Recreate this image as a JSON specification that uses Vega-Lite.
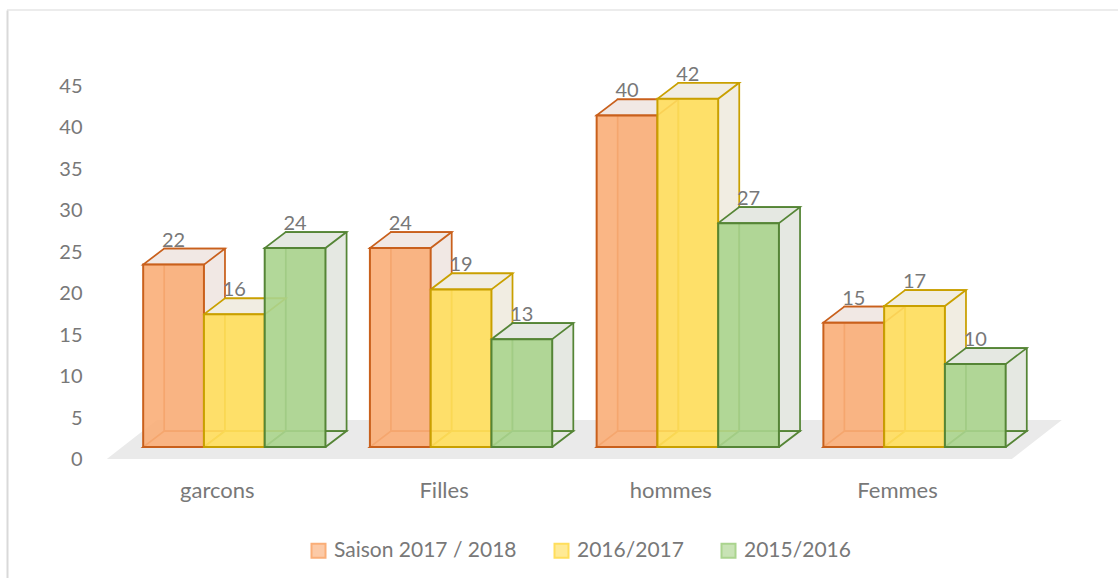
{
  "$schema": "https://vega.github.io/schema/vega-lite/v6.json",
  "width": 1111,
  "height": 568,
  "autosize": "none",
  "padding": {"left": 7, "top": 10, "right": 0, "bottom": 0},
  "background": "white",
  "config": {
    "view": {"stroke": null},
    "font": "Lato",
    "text": {"font": "Lato"}
  },
  "datasets": {
    "effectifs": [
      {"cat": "garcons", "series": "Saison 2017 / 2018", "value": 22},
      {"cat": "garcons", "series": "2016/2017", "value": 16},
      {"cat": "garcons", "series": "2015/2016", "value": 24},
      {"cat": "Filles", "series": "Saison 2017 / 2018", "value": 24},
      {"cat": "Filles", "series": "2016/2017", "value": 19},
      {"cat": "Filles", "series": "2015/2016", "value": 13},
      {"cat": "hommes", "series": "Saison 2017 / 2018", "value": 40},
      {"cat": "hommes", "series": "2016/2017", "value": 42},
      {"cat": "hommes", "series": "2015/2016", "value": 27},
      {"cat": "Femmes", "series": "Saison 2017 / 2018", "value": 15},
      {"cat": "Femmes", "series": "2016/2017", "value": 17},
      {"cat": "Femmes", "series": "2015/2016", "value": 10}
    ],
    "decor": [{"part": "plancher"}]
  },
  "layer": [
    {
      "data": {"name": "decor"},
      "mark": {"type": "point", "shape": "M-77.5,-27L827.5,-27L777.5,12L-127.5,12Z", "size": 4, "filled": true, "color": "#EAEAEA", "opacity": 1},
      "encoding": {"x": {"datum": "garcons", "type": "nominal"}, "y": {"datum": 0, "type": "quantitative"}}
    },
    {
      "data": {"name": "decor"},
      "mark": {"type": "rule", "color": "#D9D9D9", "strokeWidth": 1},
      "encoding": {"y": {"datum": 52.71, "type": "quantitative"}}
    },
    {
      "data": {"name": "effectifs"},
      "encoding": {
        "x": {
          "field": "cat", "type": "nominal",
          "scale": {"domain": ["garcons", "Filles", "hommes", "Femmes"], "paddingInner": 0.196, "paddingOuter": 0.548, "align": 0.548},
          "axis": {"title": null, "orient": "bottom", "domain": false, "ticks": false, "tickSize": 0, "labelPadding": -88, "labelBaseline": "middle", "labelAlign": "center", "labelOffset": -17, "labelFontSize": 22, "labelColor": "#787878", "labelFont": "Lato", "labelAngle": 0}
        },
        "y": {
          "field": "value", "type": "quantitative",
          "scale": {"domain": [-15.8, 52.71], "nice": false, "zero": false},
          "axis": {"title": null, "values": [0, 5, 10, 15, 20, 25, 30, 35, 40, 45], "grid": false, "ticks": false, "tickSize": 0, "domain": true, "domainColor": "#D9D9D9", "domainWidth": 2, "labelPadding": -75, "labelOffset": 12.5, "labelFontSize": 20, "labelColor": "#787878", "labelFont": "Lato", "labelBaseline": "middle", "labelAlign": "right"}
        }
      },
      "layer": [
        {
          "mark": {"type": "bar", "yOffset": -16, "y2Offset": -16, "strokeWidth": 1.75, "opacity": 1},
          "encoding": {
            "xOffset": {"field": "series", "type": "nominal", "scale": {"domain": ["Saison 2017 / 2018", "2016/2017", "2015/2016"], "range": [21, 203.4], "paddingInner": 0, "paddingOuter": 0}},
            "y2": {"datum": 0},
            "fill": {"field": "series", "type": "nominal", "scale": {"domain": ["Saison 2017 / 2018", "2016/2017", "2015/2016", "face"], "range": ["#F1E8E4", "#F1EDE2", "#E5E8E2", "#EEEEEE"]}, "legend": null},
            "stroke": {"field": "series", "type": "nominal", "scale": {"domain": ["Saison 2017 / 2018", "2016/2017", "2015/2016", "arete"], "range": ["#C9601C", "#C9A000", "#558536", "#999999"]}, "legend": null}
          }
        },
        {
          "encoding": {
            "xOffset": {"field": "series", "type": "nominal", "scale": {"domain": ["Saison 2017 / 2018", "2016/2017", "2015/2016"], "paddingInner": 0, "paddingOuter": 0}}
          },
          "layer": [
            {
              "mark": {"type": "point", "shape": "M-30.4,0L30.4,0L51.4,-16L-9.4,-16Z", "size": 4, "filled": true, "opacity": 1, "strokeWidth": 1.75},
              "encoding": {
                "y": {"datum": 0},
                "fill": {"field": "series", "type": "nominal", "legend": null},
                "stroke": {"field": "series", "type": "nominal", "legend": null}
              }
            },
            {
              "mark": {"type": "point", "shape": "M-30.4,0L30.4,0L51.4,-16L-9.4,-16Z", "size": 4, "filled": true, "opacity": 1, "strokeWidth": 1.75},
              "encoding": {
                "fill": {"field": "series", "type": "nominal", "legend": null},
                "stroke": {"field": "series", "type": "nominal", "legend": null}
              }
            },
            {
              "mark": {"type": "bar", "strokeWidth": 2, "fillOpacity": 0.9},
              "encoding": {
                "y2": {"datum": 0},
                "color": {
                  "field": "series", "type": "nominal",
                  "scale": {"domain": ["Saison 2017 / 2018", "2016/2017", "2015/2016"], "range": ["#FAAE78", "#FFDE5C", "#AAD48E"]},
                  "legend": {"title": null, "orient": "none", "legendX": 301, "legendY": 530, "direction": "horizontal", "symbolType": "square", "symbolSize": 196, "labelFontSize": 21, "labelColor": "#787878", "labelFont": "Lato", "labelOffset": 5, "labelLimit": 0, "columnPadding": 33,
                    "encode": {"symbols": {"update": {"fill": {"scale": "color", "field": "value"}, "stroke": {"scale": "color", "field": "value"}, "strokeWidth": {"value": 2}, "fillOpacity": {"value": 0.65}, "strokeOpacity": {"value": 1}, "opacity": {"value": 1}}}}}
                },
                "stroke": {"field": "series", "type": "nominal", "legend": null}
              }
            },
            {
              "mark": {"type": "text", "dy": -24, "baseline": "middle", "fontSize": 20, "color": "#787878", "font": "Lato"},
              "encoding": {"text": {"field": "value", "type": "quantitative"}}
            }
          ]
        }
      ],
      "resolve": {"scale": {"xOffset": "independent"}}
    }
  ]
}
